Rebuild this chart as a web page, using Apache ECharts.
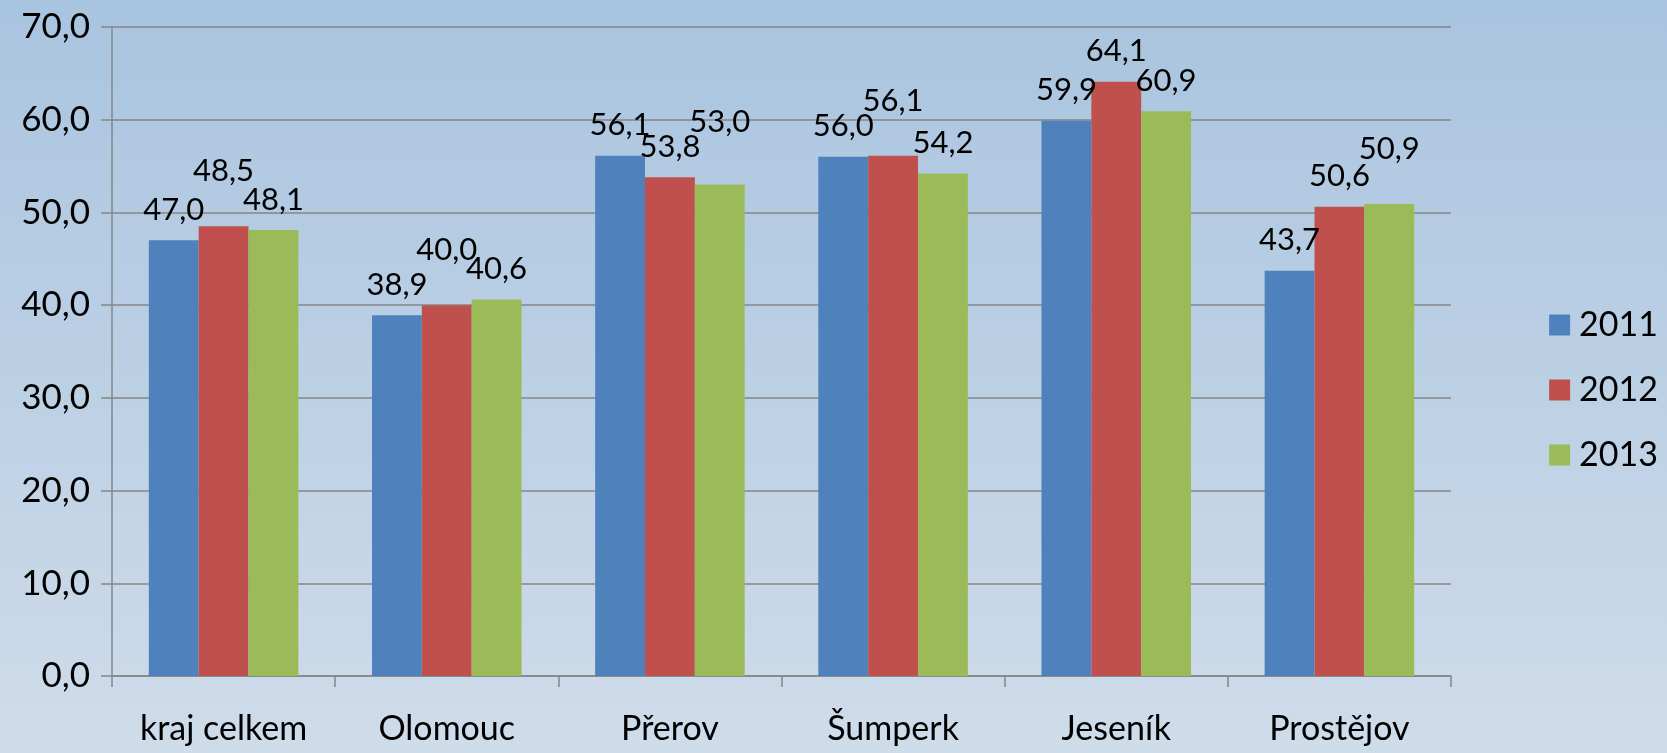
<!DOCTYPE html>
<html>
<head>
<meta charset="utf-8">
<script src="https://cdn.jsdelivr.net/npm/echarts@6/dist/echarts.min.js"></script>
<style>
  html, body { margin: 0; padding: 0; }
  #chart { width: 1667px; height: 753px; }
</style>
</head>
<body>
<div id="chart"></div>
<script>
const categories = ['kraj celkem', 'Olomouc', 'Přerov', 'Šumperk', 'Jeseník', 'Prostějov'];
const years = ['2011', '2012', '2013'];
const values2011 = [47.0, 38.9, 56.1, 56.0, 59.9, 43.7];
const values2012 = [48.5, 40.0, 53.8, 56.1, 64.1, 50.6];
const values2013 = [48.1, 40.6, 53.0, 54.2, 60.9, 50.9];
const colors = ['#4f81bd', '#c0504d', '#9bbb59'];

const allValues = [values2011, values2012, values2013];
const font = 'Lato, "Open Sans", sans-serif';
const fmt = v => v.toFixed(1).replace('.', ',');

// lift a label above its left neighbour when the two would collide
function stagger(params) {
    const s = params.seriesIndex, i = params.dataIndex;
    if (s === 0) return {};
    const ppu = params.rect.height / allValues[s][i];
    const near = params.labelRect.height * 0.5;
    const lift = params.labelRect.height * 0.8;
    let prev = -allValues[0][i] * ppu;
    let cur = prev;
    for (let k = 1; k <= s; k++) {
        const nat = -allValues[k][i] * ppu;
        cur = Math.abs(nat - prev) < near ? Math.min(nat, prev) - lift : nat;
        prev = cur;
    }
    return { dy: cur + allValues[s][i] * ppu };
}

function makeSeries(name, data, color) {
    return {
        name: name,
        type: 'bar',
        data: data,
        barGap: '0%',
        barCategoryGap: '33%',
        itemStyle: { color: color },
        label: {
            show: true,
            position: 'top',
            distance: 15,
            color: '#000',
            fontFamily: font,
            fontSize: 31,
            formatter: p => fmt(p.value),
        },
        labelLayout: stagger,
    };
}

const option = {
    backgroundColor: {
        type: 'linear', x: 0, y: 0, x2: 0, y2: 1,
        colorStops: [
            { offset: 0, color: '#a9c4df' },
            { offset: 1, color: '#cfdcea' },
        ],
    },
    animation: false,
    grid: { left: 112, right: 216, top: 27, bottom: 77 },
    legend: {
        orient: 'vertical',
        right: 4,
        top: 303,
        itemWidth: 21,
        itemHeight: 21,
        itemGap: 31,
        icon: 'rect',
        textStyle: { color: '#000', fontFamily: font, fontSize: 34, padding: [0, 0, 0, 4] },
        data: years,
    },
    xAxis: {
        type: 'category',
        data: categories,
        axisLine: { lineStyle: { color: '#868686', width: 1.5 } },
        axisTick: { show: true, length: 11, lineStyle: { color: '#868686', width: 1.5 } },
        axisLabel: { color: '#000', fontFamily: font, fontSize: 34, margin: 36 },
    },
    yAxis: {
        type: 'value',
        min: 0,
        max: 70,
        interval: 10,
        axisLine: { show: true, lineStyle: { color: '#868686', width: 1.5 } },
        axisTick: { show: true, length: 11, lineStyle: { color: '#868686', width: 1.5 } },
        splitLine: { lineStyle: { color: '#868686', width: 1.5 } },
        axisLabel: { color: '#000', fontFamily: font, fontSize: 35, margin: 22, formatter: v => fmt(v) },
    },
    series: [
        makeSeries(years[0], values2011, colors[0]),
        makeSeries(years[1], values2012, colors[1]),
        makeSeries(years[2], values2013, colors[2]),
    ],
};

const chart = echarts.init(document.getElementById('chart'));
chart.setOption(option);
</script>
</body>
</html>
